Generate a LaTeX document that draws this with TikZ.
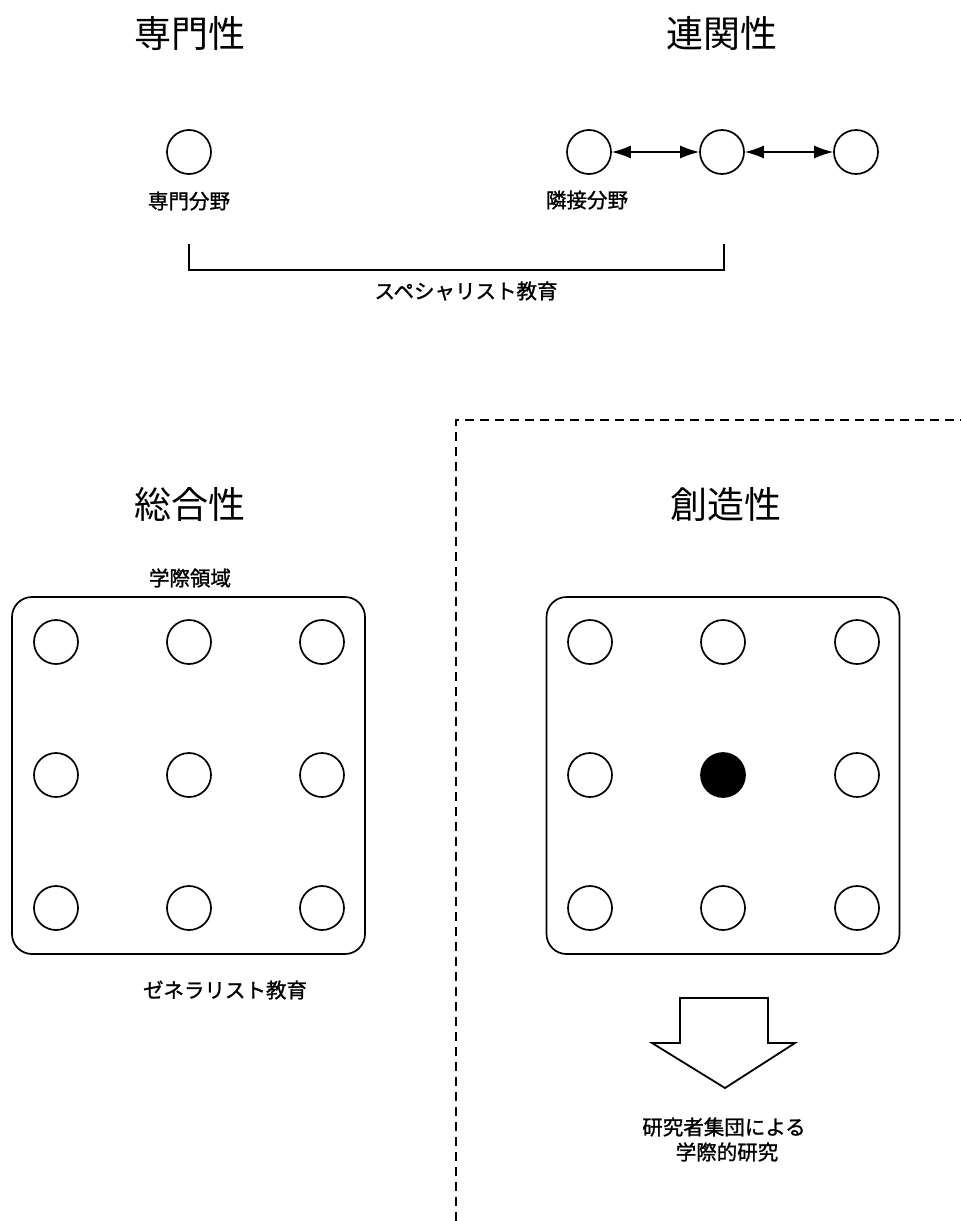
\documentclass[tikz,border=0pt]{standalone}
\usepackage{fontspec}
\setmainfont{Noto Sans CJK JP}
\newfontfamily\labfont[FakeBold=1.2]{Noto Sans CJK JP}
\usetikzlibrary{arrows.meta}
\begin{document}
\begin{tikzpicture}[x=1pt,y=-1pt,
  dot/.style={circle,draw,line width=1.7pt,minimum size=44pt,inner sep=0pt},
  fulldot/.style={dot,fill=black},
  ttl/.style={font=\fontsize{37}{40}\selectfont,inner sep=0pt},
  lab/.style={font=\labfont\fontsize{20.5}{25}\selectfont,inner sep=0pt},
  frame/.style={draw,line width=1.7pt,rounded corners=20pt,minimum width=353pt,minimum height=357pt,inner sep=0pt},
  link/.style={{Latex[length=19pt,width=13pt]}-{Latex[length=19pt,width=13pt]},line width=1.4pt},
  bracket/.style={line width=1.4pt},
  divider/.style={line width=1.8pt,dash pattern=on 9pt off 6pt},
  blockarrow/.style={draw,line width=1.8pt,line join=miter}
]
\useasboundingbox (0,0) rectangle (961,1221);

% titles
\node[ttl] (t1) at (190,33) {専門性};
\node[ttl] (t2) at (722,33) {連関性};
\node[ttl] (t3) at (190,504) {総合性};
\node[ttl] (t4) at (726,504) {創造性};

% top left: specialty
\node[dot] (sp) at (189,152) {};
\node[lab] (splab) at (189,201) {専門分野};

% top right: linked fields
\node[dot] (r1) at (589,152) {};
\node[dot] (r2) at (722,152) {};
\node[dot] (r3) at (856,152) {};
\draw[link] (r1) -- (r2);
\draw[link] (r2) -- (r3);
\node[lab] (rlab) at (587,200) {隣接分野};

% bracket
\coordinate (bl) at (189,244);
\coordinate (br) at (724,244);
\draw[bracket] (bl) -- ++(0,26) -| (br);
\node[lab] (spec) at (466,291) {スペシャリスト教育};

% divider
\coordinate (d0) at (456,1221);
\coordinate (d1) at (456,420);
\coordinate (d2) at (961,420);
\draw[divider] (d0) -- (d1) -- (d2);

% left box
\node[lab] (glab) at (190,578) {学際領域};
\node[frame] (boxL) at (188.5,775.5) {};
\foreach \i/\x in {1/56,2/189,3/322}{
  \foreach \j/\y in {1/642,2/775,3/908}{
    \node[dot] (L\i\j) at (\x,\y) {};
  }
}
\node[lab] (gen) at (225,990) {ゼネラリスト教育};

% right box
\node[frame] (boxR) at (723,775.5) {};
\foreach \i/\x in {1/590,2/723,3/857}{
  \foreach \j/\y in {1/642,3/908}{
    \node[dot] (R\i\j) at (\x,\y) {};
  }
}
\node[dot] (R12) at (590,775) {};
\node[dot] (R32) at (857,775) {};
\node[fulldot] (R22) at (723,775) {};

% block arrow
\draw[blockarrow] (680,998) -- (768,998) -- (768,1043) -- (795,1043) -- (725,1088)
  -- (652,1043) -- (680,1043) -- cycle;

\node[lab] (res1) at (724,1127) {研究者集団による};
\node[lab] (res2) at (727,1152) {学際的研究};
\end{tikzpicture}
\end{document}
